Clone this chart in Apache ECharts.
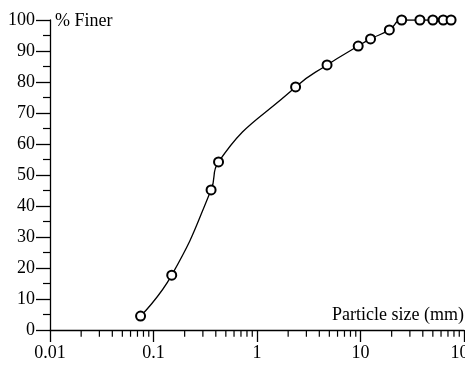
<!DOCTYPE html>
<html>
<head>
<meta charset="utf-8">
<script src="https://cdn.jsdelivr.net/npm/echarts@6/dist/echarts.min.js"></script>
<style>
  html, body { margin: 0; padding: 0; background: #fff; }
  #main { width: 465px; height: 365px; }
</style>
</head>
<body>
<div id="main"></div>
<script>
// particle size (mm) and % finer
var sizes = [0.075, 0.15, 0.36, 0.425, 2.36, 4.75, 9.5, 12.5, 19, 25, 37.5, 50, 63, 75];
var finer = [4.5, 17.7, 45.2, 54.2, 78.4, 85.5, 91.6, 93.9, 96.8, 100, 100, 100, 100, 100];

// minor ticks on the log axis (2..9 in each decade)
var minorX = [];
[0.01, 0.1, 1, 10].forEach(function (d) {
  for (var k = 2; k <= 9; k++) minorX.push(+(d * k).toPrecision(3));
});

var font = 'Liberation Serif, Times New Roman, serif';

var chart = echarts.init(document.getElementById('main'));

var points = sizes.map(function (s, i) { return [s, finer[i]]; });

// each minor tick = short segment from y=0 down a little, broken by gaps
var tickSegs = [];
minorX.forEach(function (v) {
  tickSegs.push([v, 0], [v, -2.2], [v, '-']);
});

chart.setOption({
  animation: false,
  grid: { left: 50, right: 1, top: 20, bottom: 35, outerBoundsMode: 'none', containLabel: false },
  xAxis: {
    type: 'log',
    logBase: 10,
    min: 0.01,
    max: 100,
    axisLine: { lineStyle: { color: '#000', width: 1.3 } },
    axisTick: { length: 12, lineStyle: { color: '#000', width: 1.3 } },
    axisLabel: {
      color: '#000', fontSize: 18, fontFamily: font, margin: 14,
      formatter: function (v) { return String(+v.toPrecision(3)); }
    },
    splitLine: { show: false }
  },
  yAxis: {
    type: 'value',
    min: 0,
    max: 100,
    interval: 10,
    axisLine: { show: true, onZero: false, lineStyle: { color: '#000', width: 1.3 } },
    axisTick: { show: true, length: 14, lineStyle: { color: '#000', width: 1.3 } },
    minorTick: { show: true, splitNumber: 2, length: 7, lineStyle: { color: '#000', width: 1.2 } },
    axisLabel: { color: '#000', fontSize: 18, fontFamily: font, margin: 15 },
    splitLine: { show: false }
  },
  graphic: [{
    type: 'text', left: 55, top: 12,
    style: { text: '% Finer', fill: '#000', font: '18px ' + font }
  }, {
    type: 'text', right: 1, top: 306,
    style: { text: 'Particle size (mm)', fill: '#000', font: '18px ' + font }
  }],
  series: [{
    type: 'line',
    data: points,
    smooth: 0.5,
    symbol: 'emptyCircle',
    symbolSize: 9,
    itemStyle: { color: '#000', borderColor: '#000', borderWidth: 1.2 },
    lineStyle: { color: '#000', width: 1.3 },
    z: 5
  }, {
    // minor tick marks of the log axis
    type: 'line',
    data: tickSegs,
    connectNulls: false,
    showSymbol: false,
    symbol: 'none',
    clip: false,
    silent: true,
    lineStyle: { color: '#000', width: 1.2 },
    z: 1
  }]
});
</script>
</body>
</html>
